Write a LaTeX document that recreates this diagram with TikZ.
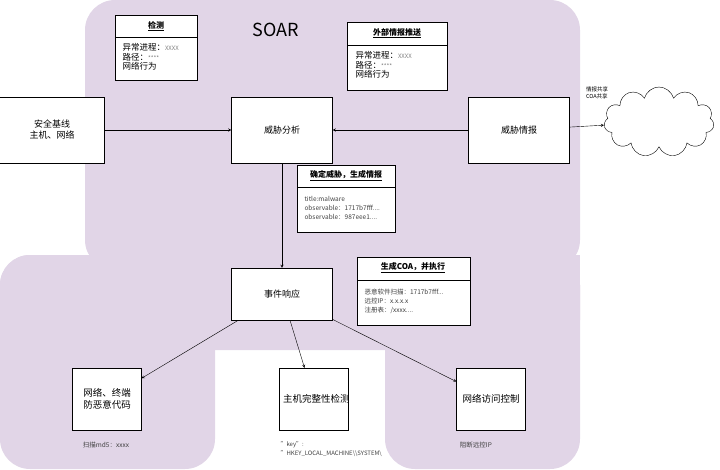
\documentclass[tikz,border=0pt]{standalone}
\usepackage{fontspec}
\setmainfont{Noto Sans CJK SC}
\usetikzlibrary{shapes.symbols}
\definecolor{soarbg}{RGB}{225,213,231}
\tikzset{
  box/.style={draw,fill=white,minimum width=101pt,minimum height=66pt,align=center,font=\fontsize{9}{11}\selectfont},
  smallbox/.style={draw,fill=white,minimum width=66pt,minimum height=62pt,align=center,font=\fontsize{9.5}{12}\selectfont,text width=62pt},
  note/.style={font=\fontsize{6.5}{9}\selectfont\color{darkgray},align=left},
  arr/.style={->,>=stealth}
}
\begin{document}
\begin{tikzpicture}[x=1pt,y=-1pt]
\useasboundingbox (0,0) rectangle (720,469);
% background
\fill[soarbg,rounded corners=30pt] (85,0) rectangle (580,270);
\fill[soarbg,rounded corners=30pt] (0,255) rectangle (215,469);
\fill[soarbg,rounded corners=30pt] (385,255) rectangle (580,469);
\fill[soarbg,rounded corners=30pt] (0,255) rectangle (580,350);
\fill[soarbg] (100,255) rectangle (580,300);
\node[font=\fontsize{18}{20}\selectfont] (soar) at (276,30) {SOAR};

\node[box,minimum width=105pt] (base) at (52,130) {安全基线\\主机、网络};
\node[box] (analysis) at (282,130) {威胁分析};
\node[box] (intel) at (519,130) {威胁情报};
\node[cloud,draw,fill=white,cloud puffs=11,minimum width=110pt,minimum height=70pt] (cloud) at (659,122) {};
\node[box,minimum height=52pt] (response) at (282,294) {事件响应};
\node[smallbox] (av) at (107,399) {网络、终端\\防恶意代码};
\node[smallbox] (hids) at (314,399) {主机完整性检测};
\node[smallbox] (nac) at (491,399) {网络访问控制};

% info panels
\draw[fill=white] (115,15) rectangle (197,80);
\draw (115,37) -- (197,37);
\node[font=\fontsize{8}{9}\selectfont\bfseries] (detect) at (156,26) {\underline{检测}};
\node[align=left,anchor=north west,font=\fontsize{8.5}{9.5}\selectfont] (detecttxt) at (119,40) {异常进程：{\fontsize{6}{7}\selectfont\color{gray}XXXX}\\路径：{\fontsize{6}{7}\selectfont\color{gray}****}\\网络行为};
\draw[fill=white] (347,22) rectangle (447,90);
\draw (347,45) -- (447,45);
\node[font=\fontsize{8}{9}\selectfont\bfseries] (push) at (397,33) {\underline{外部情报推送}};
\node[align=left,anchor=north west,font=\fontsize{8.5}{9.5}\selectfont] (pushtxt) at (352,48) {异常进程：{\fontsize{6}{7}\selectfont\color{gray}XXXX}\\路径：{\fontsize{6}{7}\selectfont\color{gray}****}\\网络行为};
\draw[fill=white] (297,165) rectangle (395,232);
\draw (297,187) -- (395,187);
\node[font=\fontsize{8}{9}\selectfont\bfseries] (confirm) at (346,176) {\underline{确定威胁，生成情报}};
\node[note,anchor=north west] (confirmtxt) at (301,193) {title:malware\\observable：1717b7fff....\\observable：987eee1....};
\draw[fill=white] (357,257) rectangle (470,325);
\draw (357,280) -- (470,280);
\node[font=\fontsize{8}{9}\selectfont\bfseries] (coa) at (413,268) {\underline{生成COA，并执行}};
\node[note,anchor=north west] (coatxt) at (361,285) {恶意软件扫描：1717b7fff...\\远控IP：x.x.x.x\\注册表：/xxxx....};

\node[note] (md5) at (106,445) {扫描md5：xxxx};
\node[note,anchor=north west,font=\fontsize{6}{9}\selectfont\color{darkgray}] (key) at (277,438) {\symbol{34}key\symbol{34}:\\\symbol{34}HKEY\_LOCAL\_MACHINE\textbackslash\textbackslash SYSTEM\textbackslash};
\node[note] (block) at (476,445) {阻断远控IP};
\node[note,font=\fontsize{5.5}{7}\selectfont] (share) at (597,93) {情报共享\\COA共享};

\draw[arr] (base) -- (analysis);
\draw[arr] (intel) -- (analysis);
\draw[arr] (intel) -- (cloud);
\draw[arr] (analysis) -- (response);
\draw[arr] (response) -- (av);
\draw[arr] (response) -- (hids);
\draw[arr] (response) -- (nac);
\end{tikzpicture}
\end{document}
